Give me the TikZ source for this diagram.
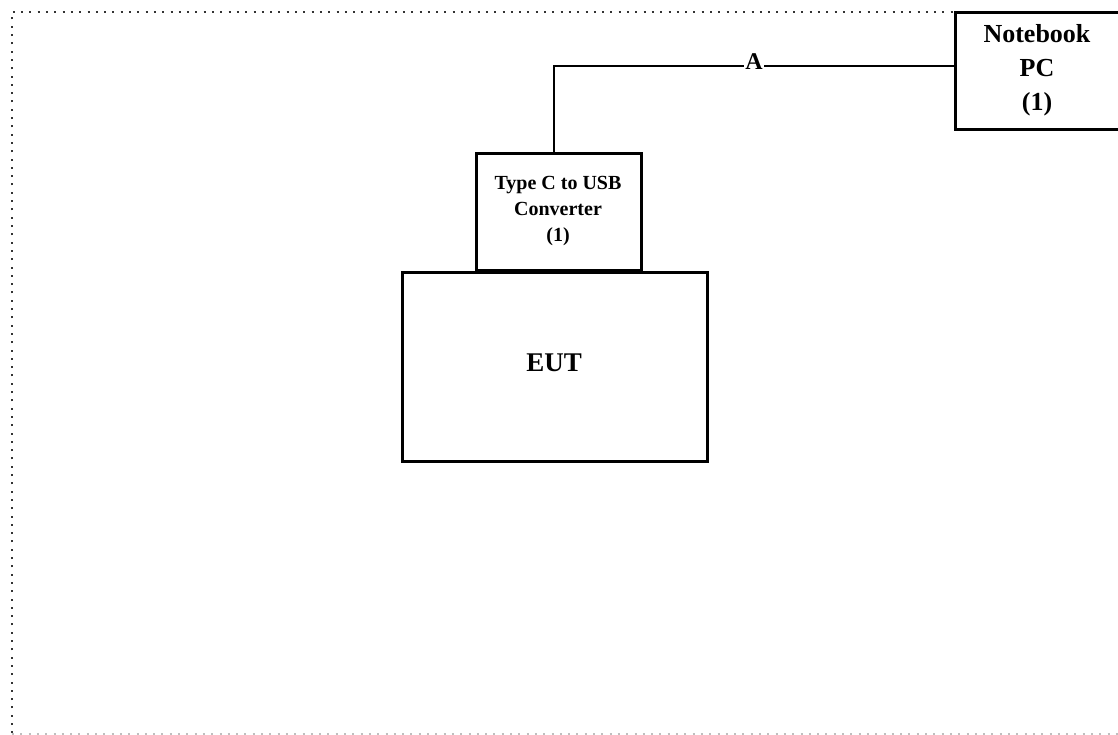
\documentclass[tikz,border=0pt]{standalone}
\usepackage{fontspec}
\setmainfont{Liberation Serif}
\begin{document}
\begin{tikzpicture}[x=1pt,y=-1pt,
  box/.style={draw=black,line width=3pt,inner sep=0pt},
  wire/.style={draw=black,line width=2.2pt},
  frame/.style={draw=black!80,line width=2pt,dash pattern=on 2pt off 6.3pt}]
\useasboundingbox (0,0) rectangle (1118,735);
\clip (0,0) rectangle (1118,735);
\fill[white] (0,0) rectangle (1118,735);
\draw[frame] (12,1140) -- (12,12) -- (1140,12);
\draw[frame,draw=black!25] (12,734) -- (1140,734);
% boxes
\draw[box] (955,13) rectangle (1130,130);
\node[inner sep=0pt,align=center,font=\bfseries\fontsize{26}{34}\selectfont] (nb) at (1037,70) {Notebook\\PC\\(1)};
\coordinate (nbl) at (955,66);
\draw[box] (476,154) rectangle (641,270);
\node[inner sep=0pt,align=center,font=\bfseries\fontsize{20}{26}\selectfont] (cv) at (558,211) {Type C to USB\\Converter\\(1)};
\coordinate (cvt) at (554,154);
\draw[box] (402,272) rectangle (707,461);
\node[inner sep=0pt,font=\bfseries\fontsize{27}{30}\selectfont] (eut) at (554,363) {EUT};
% wire
\coordinate (corner) at (554,66);
\draw[wire] (cvt) -- (corner) -- (nbl);
\node[fill=white,inner sep=1pt,font=\bfseries\fontsize{24}{26}\selectfont] (A) at (754,62) {A};
\end{tikzpicture}
\end{document}
